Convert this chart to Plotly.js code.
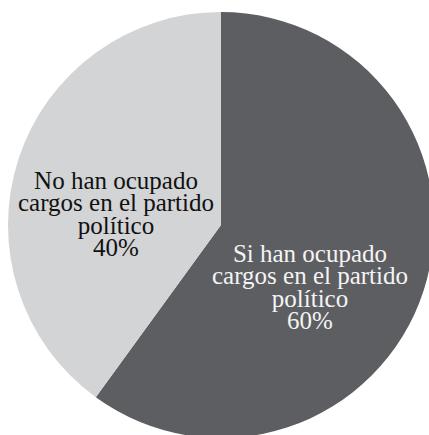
<!DOCTYPE html>
<html>
<head>
<meta charset="utf-8">
<script src="https://cdn.plot.ly/plotly-3.0.1.min.js"></script>
<style>
html,body{margin:0;padding:0;width:429px;height:435px;overflow:hidden;background:#fff;}
#chart{position:absolute;left:8px;top:12px;width:426px;height:426px;}
</style>
</head>
<body>
<div id="chart"></div>
<script>
const labels = ["Si han ocupado cargos en el partido político", "No han ocupado cargos en el partido político"];
const labelLines = [["Si han ocupado", "cargos en el partido", "político"], ["No han ocupado", "cargos en el partido", "político"]];
const values = [60, 40];
const colors = ["#5d5e62", "#d3d4d6"];
const textColors = ["#f4f4f4", "#111111"];
// label block placement (paper coords, top-center of each block)
const labelAnchors = [[0.709, 0.469], [0.2535, 0.640]];
const lineHeightEm = 0.892;

const total = values.reduce((a, b) => a + b, 0);
const annotations = labels.map((lab, i) => ({
  text: labelLines[i].concat([Math.round(values[i] / total * 100) + "%"]).join("<br>"),
  xref: "paper", yref: "paper",
  x: labelAnchors[i][0], y: labelAnchors[i][1],
  xanchor: "center", yanchor: "top", align: "center", showarrow: false,
  font: {family: "Liberation Serif", size: 25, color: textColors[i]}
}));

Plotly.newPlot("chart", [{
  type: "pie", labels: labels, values: values, sort: false, direction: "clockwise",
  rotation: 0, marker: {colors: colors, line: {width: 0}}, textinfo: "none",
  hoverinfo: "label+percent", domain: {x: [0, 1], y: [0, 1]}
}], {
  width: 426, height: 426, margin: {l: 0, r: 0, t: 0, b: 0},
  showlegend: false, paper_bgcolor: "rgba(0,0,0,0)", annotations: annotations
}, {staticPlot: true}).then(() => {
  // tighten the line spacing of the multi-line labels to match the reference
  document.querySelectorAll("#chart .annotation-text tspan.line").forEach(ts => {
    const dy = ts.getAttribute("dy");
    if (dy) ts.setAttribute("dy", (parseFloat(dy) * lineHeightEm / 1.3) + "em");
  });
});
</script>
</body>
</html>
